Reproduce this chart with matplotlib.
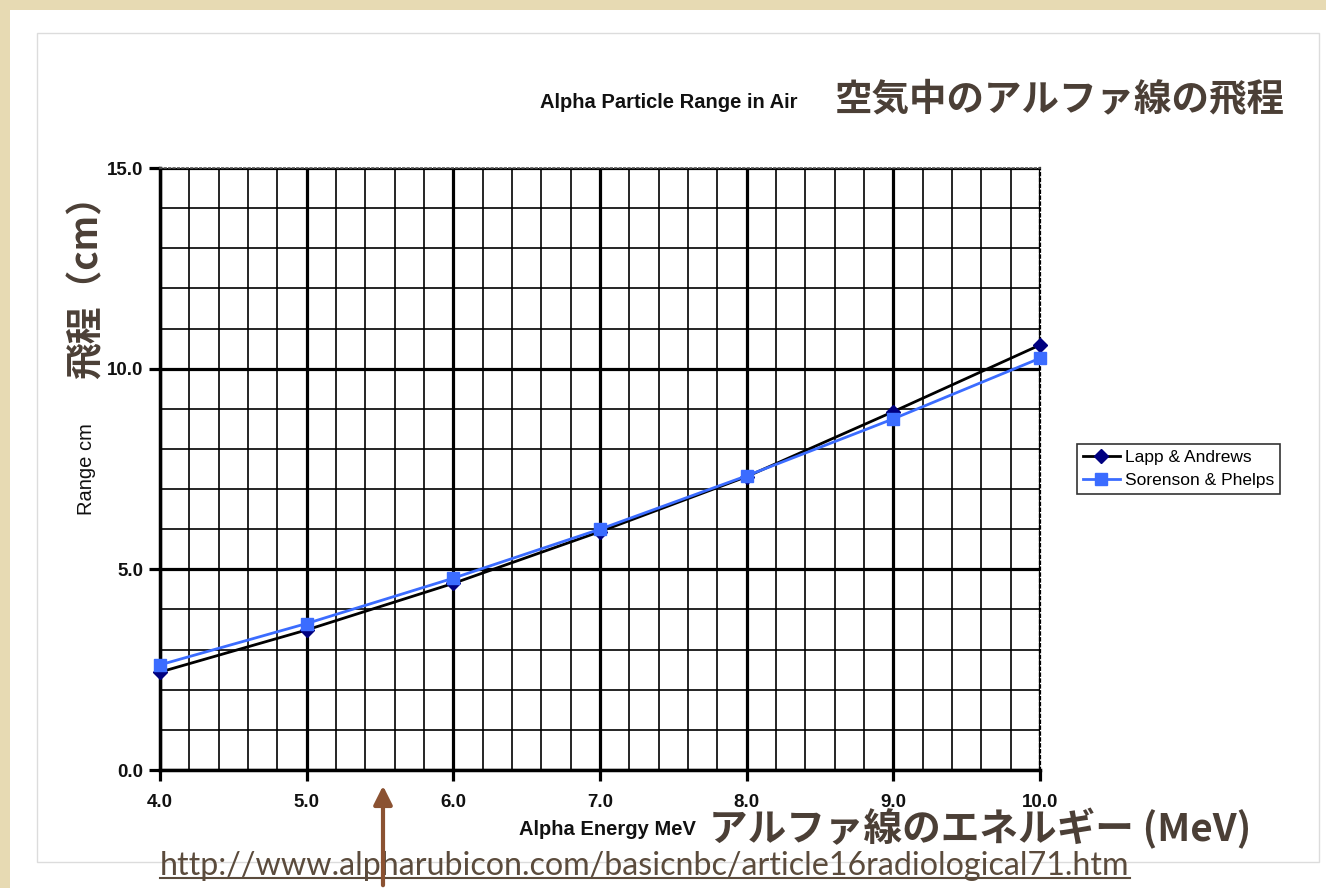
import matplotlib
matplotlib.use("Agg")
import matplotlib.pyplot as plt
from matplotlib.patches import Rectangle, FancyArrowPatch
from matplotlib.lines import Line2D
from matplotlib.ticker import MultipleLocator

# Alpha particle range in air (cm) versus energy (MeV)
energy = [4.0, 5.0, 6.0, 7.0, 8.0, 9.0, 10.0]
lapp_andrews = [2.44, 3.49, 4.65, 5.94, 7.31, 8.93, 10.59]
sorenson_phelps = [2.62, 3.65, 4.78, 6.00, 7.33, 8.75, 10.26]

x_ticks = [4.0, 5.0, 6.0, 7.0, 8.0, 9.0, 10.0]
y_ticks = [0.0, 5.0, 10.0, 15.0]

title_en = "Alpha Particle Range in Air"
title_jp = "空気中のアルファ線の飛程"
xlabel_en = "Alpha Energy MeV"
xlabel_jp = "アルファ線のエネルギー (MeV)"
ylabel_en = "Range cm"
ylabel_jp = "飛程（cm）"
series_names = ["Lapp & Andrews", "Sorenson & Phelps"]
source_url = "http://www.alpharubicon.com/basicnbc/article16radiological71.htm"

W, H = 1326, 888
JP = ["Noto Sans CJK JP", "DejaVu Sans"]
EN = ["Liberation Sans", "DejaVu Sans"]
BROWN = "#4b3f36"


def fx(px):
    return px / W


def fy(py):
    return 1 - py / H


fig = plt.figure(figsize=(W / 100, H / 100), dpi=100, facecolor="#e7dab3")

# white page and the light chart frame, kept behind the axes
fig.patches.append(Rectangle((fx(10), 0), 1 - fx(10), fy(10), transform=fig.transFigure,
                             facecolor="white", edgecolor="none", zorder=-20))
fig.patches.append(Rectangle((fx(37), fy(862)), fx(1319 - 37), (862 - 33) / H,
                             transform=fig.transFigure, facecolor="none",
                             edgecolor="#dcdcdc", lw=1.0, zorder=-19))

ax = fig.add_axes([fx(160), fy(770), fx(880), 602 / H])
ax.set_facecolor("white")
ax.set_xlim(4.0, 10.0)
ax.set_ylim(0.0, 15.0)

ax.xaxis.set_major_locator(MultipleLocator(1.0))
ax.xaxis.set_minor_locator(MultipleLocator(0.2))
ax.yaxis.set_major_locator(MultipleLocator(5.0))
ax.yaxis.set_minor_locator(MultipleLocator(1.0))
ax.grid(which="minor", color="black", lw=1.2, zorder=0)
ax.grid(which="major", color="black", lw=2.3, zorder=0)
ax.set_axisbelow(True)

ax.set_xticks(x_ticks)
ax.set_yticks(y_ticks)
ax.set_xticklabels([f"{v:.1f}" for v in x_ticks])
ax.set_yticklabels([f"{v:.1f}" for v in y_ticks])
ax.tick_params(which="major", direction="out", length=8, width=2.3, color="black")
ax.tick_params(which="minor", length=0)
ax.tick_params(axis="x", pad=9)
ax.tick_params(axis="y", pad=4)
for lab in ax.get_xticklabels() + ax.get_yticklabels():
    lab.set_fontfamily(EN)
    lab.set_fontweight("bold")
    lab.set_fontsize(13.5)
    lab.set_color("#111111")

ax.spines["left"].set_linewidth(2.5)
ax.spines["bottom"].set_linewidth(2.5)
ax.spines["top"].set_linewidth(1.2)
ax.spines["top"].set_linestyle(":")
ax.spines["top"].set_color("#555555")
ax.spines["right"].set_linewidth(1.6)
ax.spines["right"].set_linestyle(":")

ax.plot(energy, lapp_andrews, color="black", lw=2.0, marker="D", ms=7.5,
        mfc="#000080", mec="#000080", label=series_names[0], zorder=3, clip_on=False)
ax.plot(energy, sorenson_phelps, color="#3b6cff", lw=2.0, marker="s", ms=9,
        mfc="#3b6cff", mec="#3b6cff", label=series_names[1], zorder=4, clip_on=False)

leg = fig.legend(loc="upper left", bbox_to_anchor=(fx(1077), fy(444)),
                 prop={"family": EN, "size": 12.5}, frameon=True, fancybox=False,
                 edgecolor="black", handlelength=2.1, handletextpad=0.3,
                 borderpad=0.35, labelspacing=0.45, borderaxespad=0.0)
leg.get_frame().set_linewidth(1.2)

# titles and axis labels
fig.text(fx(669), fy(103), title_en, ha="center", va="center", family=EN,
         weight="bold", size=14.5, color="#111111")
fig.text(fx(1060), fy(100), title_jp, ha="center", va="center", family=JP,
         weight="bold", size=27, color=BROWN)
fig.text(fx(607), fy(829), xlabel_en, ha="center", va="center", family=EN,
         weight="bold", size=14.5, color="#111111")
fig.text(fx(980), fy(829), xlabel_jp, ha="center", va="center", family=JP,
         weight="bold", size=27.8, color=BROWN)
fig.text(fx(87), fy(278), ylabel_jp, ha="center", va="center", rotation=90,
         family=JP, weight="bold", size=26.5, color=BROWN)
fig.text(fx(86), fy(469), ylabel_en, ha="center", va="center", rotation=90,
         family=EN, size=14.5, color="#111111")

# source link, fitted to its width and underlined
url = fig.text(fx(160), fy(866), source_url, ha="left", va="center",
               family=["Lato", "DejaVu Sans"], size=20, color="#5b4b3c")
renderer = fig.canvas.get_renderer()
bb = url.get_window_extent(renderer)
url.set_fontsize(20 * 970 / bb.width)
bb = url.get_window_extent(renderer)
fig.add_artist(Line2D([bb.x0 / W, bb.x1 / W], [fy(878), fy(878)],
                      transform=fig.transFigure, color="#5b4b3c", lw=1.5))

# pointer arrow
fig.add_artist(FancyArrowPatch(
    (fx(383), 0.0), (fx(383), fy(783)), transform=fig.transFigure,
    arrowstyle="-|>", mutation_scale=28, lw=3, color="#8b5232", zorder=5))

fig.savefig("out.png", dpi=100, facecolor=fig.get_facecolor())
